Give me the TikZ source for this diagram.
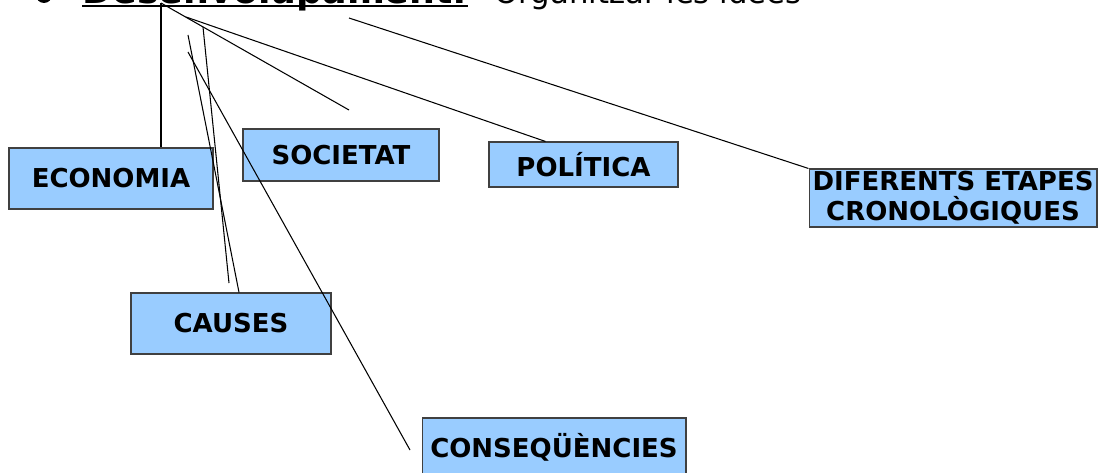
\documentclass[tikz,border=0pt]{standalone}
\usepackage{fontspec}
\setmainfont{DejaVu Sans}
\usepackage{tikz}
\usetikzlibrary{calc}
\definecolor{boxblue}{HTML}{99CCFF}
\definecolor{boxedge}{HTML}{404040}

\begin{document}
\begin{tikzpicture}[x=0.02cm, y=-0.02cm,
    idea/.style={draw=boxedge, line width=0.6pt, fill=boxblue, inner sep=0pt, align=center,
        font=\fontsize{14.8}{17}\selectfont\bfseries},
    link/.style={line width=0.6pt}]
    \useasboundingbox (0, 0) rectangle (1100, 473);
    \clip (0, 0) rectangle (1100, 473);

    \node[circle, fill, inner sep=0pt, minimum size=0.32cm] at (44, -5) (bullet) {};
    \node[anchor=base west, inner sep=0pt, font=\fontsize{20.7}{24}\selectfont\bfseries] at (82, 4) (title) {Desenvolupament:};
    \node[anchor=base west, inner sep=0pt, font=\fontsize{17.5}{21}\selectfont] at (494, 4) (subtitle) {Organitzar les idees};
    \draw[line width=0.04cm] ([yshift=-0.05cm]title.base west) -- ([yshift=-0.05cm]title.base east);

    \node[idea, minimum width=4.08cm, minimum height=1.22cm] at (111, 178.5) (econ) {ECONOMIA};
    \node[idea, minimum width=3.92cm, minimum height=1.04cm] at (341, 155) (soc) {SOCIETAT};
    \node[idea, minimum width=3.78cm, minimum height=0.90cm] at (583.5, 164.5) (pol) {POLÍTICA};
    \node[idea, minimum width=5.76cm, minimum height=1.16cm] at (953, 198) (dif) {DIFERENTS ETAPES\\CRONOLÒGIQUES};
    \node[idea, minimum width=4.00cm, minimum height=1.22cm] at (231, 323.5) (caus) {CAUSES};
    \node[idea, minimum width=5.28cm, minimum height=1.16cm] at (554, 447) (cons) {CONSEQÜÈNCIES};

    \coordinate (r1) at (161, 3);
    \coordinate (r2) at (186, 17);
    \coordinate (r3) at (203, 27);
    \coordinate (r4) at (188, 35);
    \coordinate (r5) at (188, 52);
    \coordinate (r6) at (349, 18);
    \coordinate (f1) at (349, 110);
    \coordinate (f2) at (229, 283);
    \coordinate (f3) at (410, 450);

    \draw[link] (r1) -- (r1 |- econ.north);
    \draw[link] (r1) -- (f1);
    \draw[link] (r2) -- ($(pol.north west)!0.3!(pol.north east)$);
    \draw[link] (r3) -- (f2);
    \draw[link] (r4) -- ($(caus.north west)!0.54!(caus.north east)$);
    \draw[link] (r5) -- (f3);
    \draw[link] (r6) -- (dif.north west);
\end{tikzpicture}
\end{document}
